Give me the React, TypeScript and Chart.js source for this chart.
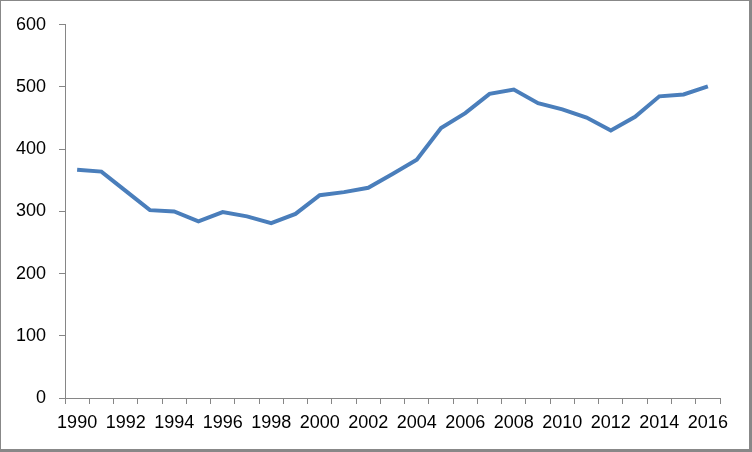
import React, { useEffect, useRef } from "react";
import { Chart, registerables } from "chart.js";

Chart.register(...registerables);

const years: string[] = [
  "1990", "1991", "1992", "1993", "1994", "1995", "1996", "1997", "1998", "1999",
  "2000", "2001", "2002", "2003", "2004", "2005", "2006", "2007", "2008", "2009",
  "2010", "2011", "2012", "2013", "2014", "2015", "2016",
];

const values: number[] = [
  367, 364, 333, 302, 300, 284, 299, 292, 281, 296,
  326, 331, 338, 360, 383, 434, 458, 489, 496, 474,
  464, 451, 430, 452, 485, 488, 501,
];

const yMin = 0;
const yMax = 600;
const yStep = 100;

export default function App() {
  const canvasRef = useRef<HTMLCanvasElement | null>(null);

  useEffect(() => {
    const canvas = canvasRef.current;
    if (!canvas) return;
    const axisColor = "#868686";
    const font = { family: "'Liberation Sans', Arial, sans-serif", size: 18 };
    const chart = new Chart(canvas, {
      type: "line",
      data: {
        labels: years,
        datasets: [
          {
            data: values,
            borderColor: "#4A7EBB",
            borderWidth: 4,
            pointRadius: 0,
            tension: 0,
            fill: false,
          },
        ],
      },
      options: {
        animation: false,
        responsive: false,
        maintainAspectRatio: false,
        layout: { padding: { top: 23, right: 29, left: 0, bottom: 0 } },
        plugins: { legend: { display: false }, tooltip: { enabled: false } },
        scales: {
          x: {
            type: "category",
            offset: true,
            grid: {
              offset: true,
              drawOnChartArea: false,
              drawTicks: true,
              tickLength: 6,
              color: axisColor,
            },
            border: { display: true, color: axisColor, width: 1 },
            ticks: {
              autoSkip: false,
              maxRotation: 0,
              minRotation: 0,
              padding: 8,
              color: "#000",
              font,
              callback: (_v: any, i: number) => (i % 2 === 0 ? years[i] : ""),
            },
            afterFit: (scale: any) => {
              scale.height = 51;
            },
          },
          y: {
            min: yMin,
            max: yMax,
            grid: {
              drawOnChartArea: false,
              drawTicks: true,
              tickLength: 6,
              color: axisColor,
            },
            border: { display: true, color: axisColor, width: 1 },
            ticks: {
              stepSize: yStep,
              padding: 13,
              color: "#000",
              font,
            },
            afterFit: (scale: any) => {
              scale.width = 64;
            },
          },
        },
      },
    });
    return () => chart.destroy();
  }, []);

  return (
    <div
      style={{
        position: "absolute",
        left: 0,
        top: 0,
        width: 752,
        height: 452,
        boxSizing: "border-box",
        borderLeft: "1px solid #888",
        borderTop: "1px solid #888",
        borderRight: "3px solid #888",
        borderBottom: "3px solid #888",
        background: "#fff",
      }}
    >
      <canvas ref={canvasRef} width={748} height={448} style={{ display: "block" }} />
    </div>
  );
}
